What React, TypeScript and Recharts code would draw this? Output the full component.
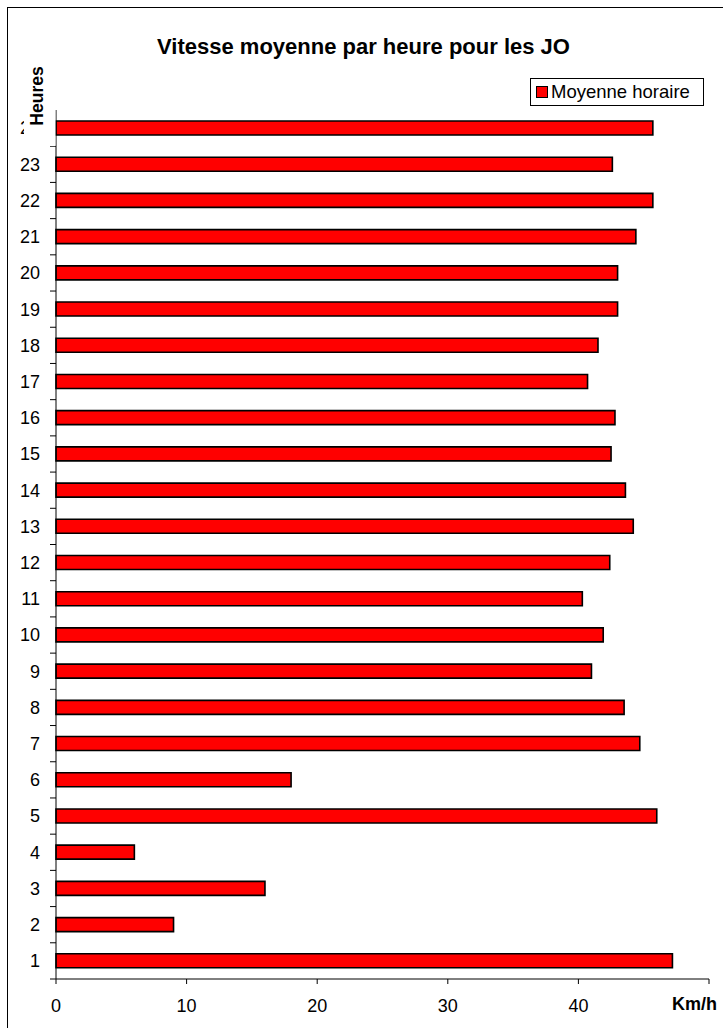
import React from 'react'
import { Bar, BarChart, Legend, XAxis, YAxis } from 'recharts'

// Vitesse moyenne (km/h) par heure
const hours = ['1', '2', '3', '4', '5', '6', '7', '8', '9', '10', '11', '12',
  '13', '14', '15', '16', '17', '18', '19', '20', '21', '22', '23', '24']
const speeds = [47.2, 9.0, 16.0, 6.0, 46.0, 18.0, 44.7, 43.5, 41.0, 41.9, 40.3, 42.4,
  44.2, 43.6, 42.5, 42.8, 40.7, 41.5, 43.0, 43.0, 44.4, 45.7, 42.6, 45.7]
const xTicks = [0, 10, 20, 30, 40, 50]
const seriesName = 'Moyenne horaire'

const FONT = '"Liberation Sans", Arial, sans-serif'
const W = 723
const H = 1028
const PLOT_TOP = 110
const PLOT_BOTTOM = 979
const BAND = (PLOT_BOTTOM - PLOT_TOP) / hours.length

const chartData = hours.map((h, i) => ({ heure: h, vitesse: speeds[i] }))

// category tick: label at centre, tick mark on the band boundary (Excel style)
const HourTick = (props: any) => {
  const { x, y, payload } = props
  return (
    <g>
      <line x1={50} x2={56} y1={y + BAND / 2} y2={y + BAND / 2} stroke="#000" strokeWidth={1} />
      <text x={x} y={y} dy="0.355em" textAnchor="end" fontSize={18} fontFamily={FONT} fill="#000">
        {payload.value}
      </text>
    </g>
  )
}

const SpeedTick = (props: any) => {
  const { x, y, payload } = props
  if (payload.value === 50) return null
  return (
    <text x={x} y={y} dy="0.71em" textAnchor="middle" fontSize={18} fontFamily={FONT} fill="#000">
      {payload.value}
    </text>
  )
}

const KmhLabel = () => (
  <text x={672} y={1010} fontSize={18} fontWeight="bold" fontFamily={FONT} fill="#000">
    Km/h
  </text>
)

const renderLegend = () => (
  <div
    style={{
      width: 174,
      height: 28,
      border: '1px solid #000',
      background: '#fff',
      display: 'flex',
      alignItems: 'center',
      fontFamily: FONT,
      fontSize: 18.5,
      boxSizing: 'border-box',
    }}
  >
    <span
      style={{
        display: 'inline-block',
        width: 10,
        height: 10,
        background: '#ff0000',
        border: '1.5px solid #000',
        marginLeft: 5,
        marginRight: 3,
      }}
    />
    <span style={{ lineHeight: '18px' }}>{seriesName}</span>
  </div>
)

export default function App() {
  return (
    <div style={{ position: 'relative', width: W, height: H, overflow: 'hidden', background: '#fff' }}>
      <style>{`body{margin:0;overflow:hidden}`}</style>
      <div
        style={{
          position: 'absolute',
          left: 7,
          top: 7,
          width: 800,
          height: 1100,
          border: '1px solid #000',
        }}
      />
      <div
        style={{
          position: 'absolute',
          left: 0,
          top: 34,
          width: W,
          textAlign: 'center',
          fontFamily: FONT,
          fontWeight: 'bold',
          fontSize: 22,
          paddingLeft: 4,
          boxSizing: 'border-box',
        }}
      >
        Vitesse moyenne par heure pour les JO
      </div>
      <div style={{ position: 'absolute', left: 0, top: 0 }}>
        <BarChart
          width={W}
          height={H}
          data={chartData}
          layout="vertical"
          margin={{ top: PLOT_TOP, right: 14, bottom: 19, left: 16 }}
          barCategoryGap={0}
        >
          <XAxis
            type="number"
            domain={[0, 50]}
            ticks={xTicks}
            interval={0}
            height={30}
            tickSize={5}
            tickMargin={15}
            axisLine={{ stroke: '#000', strokeWidth: 1 }}
            tickLine={{ stroke: '#000' }}
            tick={<SpeedTick />}
            label={<KmhLabel />}
          />
          <XAxis
            xAxisId="top"
            orientation="top"
            type="number"
            domain={[0, 50]}
            height={0}
            tick={false}
            tickLine={false}
            axisLine={{ stroke: '#999', strokeWidth: 1.5 }}
          />
          <YAxis
            yAxisId="right"
            orientation="right"
            type="number"
            domain={[0, 1]}
            width={0}
            tick={false}
            tickLine={false}
            axisLine={{ stroke: '#999', strokeWidth: 1.5 }}
          />
          <YAxis
            type="category"
            dataKey="heure"
            reversed
            width={40}
            interval={0}
            tickSize={6}
            tickMargin={10}
            tickLine={false}
            axisLine={{ stroke: '#000', strokeWidth: 1 }}
            tick={<HourTick />}
          />
          <Legend
            layout="horizontal"
            verticalAlign="middle"
            align="center"
            content={renderLegend}
            wrapperStyle={{ position: 'absolute', left: 530, top: 78, width: 174, height: 28 }}
          />
          <Bar
            dataKey="vitesse"
            name={seriesName}
            fill="#ff0000"
            stroke="#000"
            strokeWidth={1.6}
            barSize={14}
            isAnimationActive={false}
          />
        </BarChart>
      </div>
      {/* axis title drawn over the top of the category axis, as in the source */}
      <svg
        width={W}
        height={H}
        style={{ position: 'absolute', left: 0, top: 0, pointerEvents: 'none' }}
      >
        <rect x={24} y={58} width={31.5} height={88} fill="#fff" />
        <text
          x={43}
          y={96}
          transform="rotate(-90 43 96)"
          textAnchor="middle"
          fontSize={17.5}
          fontWeight="bold"
          fontFamily={FONT}
          fill="#000"
        >
          Heures
        </text>
      </svg>
    </div>
  )
}
